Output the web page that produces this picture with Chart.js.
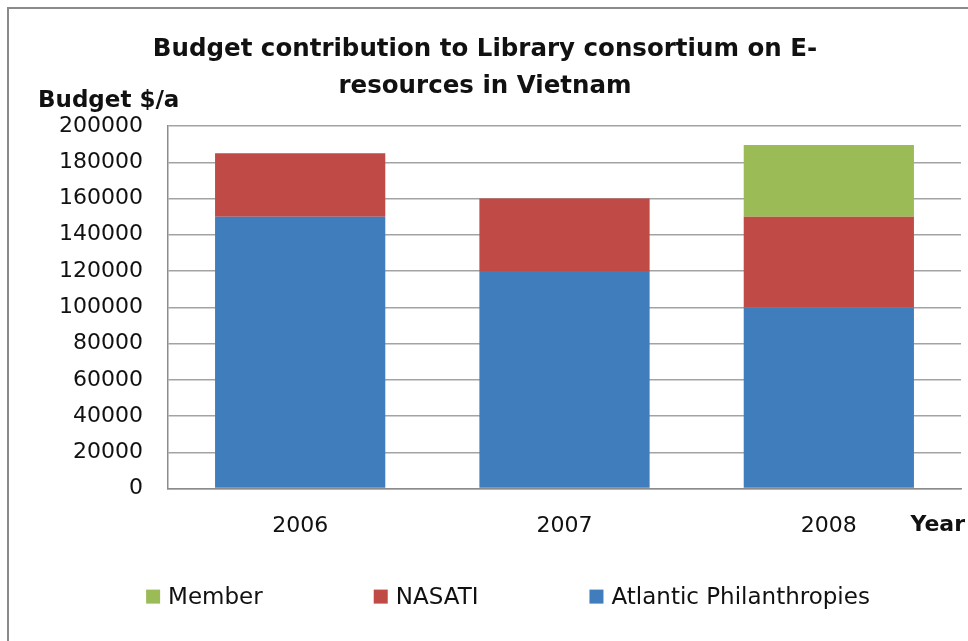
<!DOCTYPE html>
<html>
<head>
<meta charset="utf-8">
<script src="https://cdn.jsdelivr.net/npm/chart.js@4.4.1/dist/chart.umd.min.js"></script>
<style>
  html, body { margin: 0; padding: 0; background: #fff; width: 968px; height: 641px; overflow: hidden; }
  #frame {
    position: absolute; left: 7px; top: 7px;
    width: 972px; height: 660px;
    border-left: 2px solid #8a8a8a; border-top: 2px solid #8a8a8a;
  }
</style>
</head>
<body>
<div id="frame"><canvas id="chart"></canvas></div>
<script>
// ===== data =====
const YEARS = ['2006', '2007', '2008'];
const ATLANTIC = [150000, 120000, 100000];
const NASATI = [35000, 40000, 50000];
const MEMBER = [null, null, 39500];
const Y_MIN = 0, Y_MAX = 200000, Y_STEP = 20000;

const TITLE = ['Budget contribution to Library consortium on E-', 'resources in Vietnam'];
const Y_LABEL = 'Budget $/a';
const X_LABEL = 'Year';

const COLORS = {
  atlantic: '#407DBD',
  nasati: '#C04A45',
  member: '#9BBB57',
  grid: '#a3a3a3',
  axis: '#8c8c8c',
  text: '#111',
};

const FONT = '"DejaVu Sans", sans-serif';

// extra texts + legend drawn on the canvas (Excel style)
const extraText = {
  id: 'extraText',
  afterDraw(chart) {
    const { ctx, chartArea } = chart;
    ctx.save();
    ctx.fillStyle = COLORS.text;
    ctx.textBaseline = 'middle';

    ctx.font = 'bold 23px ' + FONT;
    ctx.textAlign = 'left';
    ctx.fillText(Y_LABEL, 29, chartArea.top - 25);

    ctx.font = 'bold 22px ' + FONT;
    ctx.textAlign = 'right';
    ctx.fillText(X_LABEL, chartArea.right + 4, chartArea.bottom + 37);

    // legend row, datasets in reverse order like Excel
    const items = chart.data.datasets.slice().reverse();
    ctx.font = '23px ' + FONT;
    const box = 14, gapText = 8, gapItem = 111;
    const widths = items.map(d => box + gapText + ctx.measureText(d.label).width);
    const total = widths.reduce((a, b) => a + b, 0) + gapItem * (items.length - 1);
    let x = chart.width / 2 + 13 - total / 2;
    const y = chartArea.bottom + 108;
    ctx.textAlign = 'left';
    items.forEach((d, i) => {
      ctx.fillStyle = d.backgroundColor;
      ctx.fillRect(x, y - box / 2, box, box);
      ctx.fillStyle = COLORS.text;
      ctx.fillText(d.label, x + box + gapText, y + 1);
      x += widths[i] + gapItem;
    });
    ctx.restore();
  }
};

new Chart(document.getElementById('chart'), {
  type: 'bar',
  data: {
    labels: YEARS,
    datasets: [
      { label: 'Atlantic Philanthropies', data: ATLANTIC, backgroundColor: COLORS.atlantic },
      { label: 'NASATI', data: NASATI, backgroundColor: COLORS.nasati },
      { label: 'Member', data: MEMBER, backgroundColor: COLORS.member },
    ]
  },
  options: {
    responsive: true,
    maintainAspectRatio: false,
    animation: false,
    layout: { padding: { left: 0, right: 20, top: 0, bottom: 106 } },
    datasets: { bar: { categoryPercentage: 1, barPercentage: 0.644 } },
    plugins: {
      legend: { display: false },
      tooltip: { enabled: false },
      title: {
        display: true,
        text: TITLE,
        color: COLORS.text,
        font: { family: FONT, size: 24.5, weight: 'bold', lineHeight: 37 / 24.5 },
        padding: { top: 22, bottom: 21 }
      }
    },
    scales: {
      x: {
        stacked: true,
        grid: { display: false, drawTicks: false },
        border: { display: true, color: COLORS.axis, width: 1.5 },
        ticks: { color: COLORS.text, font: { family: FONT, size: 22 }, padding: 24 }
      },
      y: {
        stacked: true,
        min: Y_MIN, max: Y_MAX,
        afterFit: scale => { scale.width = 159; },
        grid: { color: COLORS.grid, lineWidth: 1.5, drawTicks: false },
        border: { display: true, color: COLORS.axis, width: 1.5 },
        ticks: {
          stepSize: Y_STEP, color: COLORS.text, font: { family: FONT, size: 22 }, padding: 25,
          callback: v => String(v)
        }
      }
    }
  },
  plugins: [extraText]
});
</script>
</body>
</html>
